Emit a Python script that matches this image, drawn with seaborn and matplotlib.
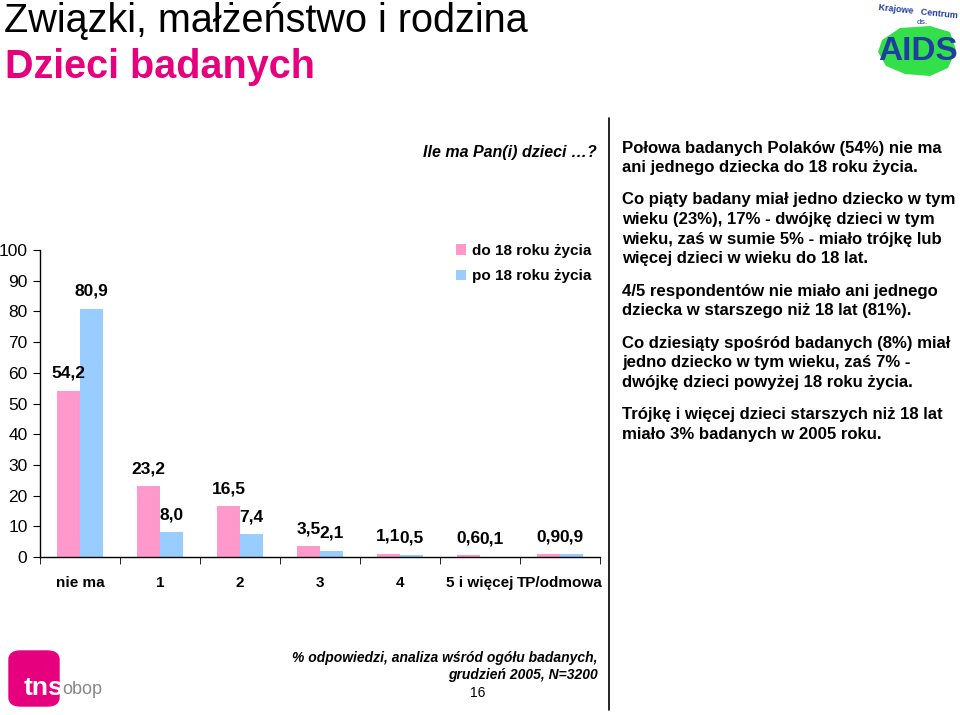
"""
Dzieci badanych - grouped bar chart (TNS OBOP slide recreation)
"""
import matplotlib
matplotlib.use('Agg')
import matplotlib.pyplot as plt
from matplotlib.lines import Line2D
from matplotlib.patches import FancyBboxPatch, Polygon
import numpy as np
import pandas as pd
import seaborn as sns

# ── DATA ──────────────────────────────────────────────────────────────
categories = ["nie ma", "1", "2", "3", "4", "5 i więcej", "TP/odmowa"]
series     = ["do 18 roku życia", "po 18 roku życia"]
under_18   = [54.2, 23.2, 16.5, 3.5, 1.1, 0.6, 0.9]
over_18    = [80.9, 8.0, 7.4, 2.1, 0.5, 0.1, 0.9]
y_ticks    = list(range(0, 101, 10))

notes = [
    ["Połowa badanych Polaków (54%) nie ma",
     "ani jednego dziecka do 18 roku życia."],
    ["Co piąty badany miał jedno dziecko w tym",
     "wieku (23%), 17% - dwójkę dzieci w tym",
     "wieku, zaś w sumie 5% - miało trójkę lub",
     "więcej dzieci w wieku do 18 lat."],
    ["4/5 respondentów nie miało ani jednego",
     "dziecka w starszego niż 18 lat (81%)."],
    ["Co dziesiąty spośród badanych (8%) miał",
     "jedno dziecko w tym wieku, zaś 7% -",
     "dwójkę dzieci powyżej 18 roku życia."],
    ["Trójkę i więcej dzieci starszych niż 18 lat",
     "miało 3% badanych w 2005 roku."],
]

df = pd.DataFrame({
    "kat": categories * 2,
    "seria": [series[0]] * len(categories) + [series[1]] * len(categories),
    "val": under_18 + over_18,
})

PINK    = "#FF99CC"
BLUE    = "#99CCFF"
MAGENTA = "#E6007E"
NAVY    = "#1F3FA0"

# ── FIGURE ────────────────────────────────────────────────────────────
sns.set_style("white")
plt.rcParams['font.family'] = ['Liberation Sans', 'DejaVu Sans']
plt.rcParams['text.color'] = 'black'
plt.rcParams['xtick.color'] = 'black'
plt.rcParams['ytick.color'] = 'black'

fig = plt.figure(figsize=(9.6, 7.15), dpi=100)
ax = fig.add_axes([40/960, 1 - 557/715, 560/960, 307/715])

sns.barplot(data=df, x="kat", y="val", hue="seria", order=categories,
            hue_order=series, palette=[PINK, BLUE], width=0.58, gap=0,
            saturation=1, edgecolor="none", ax=ax)

for cont, vals in zip(ax.containers, [under_18, over_18]):
    ax.bar_label(cont, labels=[f"{v:.1f}".replace(".", ",") for v in vals],
                 padding=7, fontsize=12.5, fontweight="bold", color="black")

ax.set_ylim(0, 100)
ax.set_xlim(-0.5, len(categories) - 0.5)
ax.set_yticks(y_ticks)
ax.set_xlabel(""); ax.set_ylabel("")
for s in ["top", "right"]:
    ax.spines[s].set_visible(False)
for s in ["left", "bottom"]:
    ax.spines[s].set_color("black")
    ax.spines[s].set_linewidth(1.0)
ax.tick_params(axis="y", left=True, length=5, labelsize=12.5, pad=4)
ax.tick_params(axis="x", which="major", length=0, labelsize=11, pad=14)
ax.set_xticks(np.arange(-0.5, len(categories)), minor=True)
ax.tick_params(axis="x", which="minor", bottom=True, length=5)
for t in ax.get_xticklabels():
    t.set_fontweight("bold")

leg = ax.legend(loc="upper right", bbox_to_anchor=(1.01, 1.065), frameon=False,
                fontsize=11, handlelength=0.7, handleheight=0.7,
                handletextpad=0.4, labelspacing=0.75)
for t in leg.get_texts():
    t.set_fontweight("bold")

# ── TITLES ────────────────────────────────────────────────────────────
fig.text(4/960, 1 - 21/715, "Związki, małżeństwo i rodzina", fontsize=28.5,
         va="center", ha="left")
fig.text(5/960, 1 - 67/715, "Dzieci badanych", fontsize=28.5, fontweight="bold",
         color=MAGENTA, va="center", ha="left")
fig.text(597/960, 1 - 153/715, "Ile ma Pan(i) dzieci …?", fontsize=11.5,
         fontweight="bold", style="italic", ha="right", va="center")

fig.add_artist(Line2D([609/960, 609/960], [1 - 118/715, 1 - 710/715],
                      color="black", lw=1.2))

# ── NOTES ─────────────────────────────────────────────────────────────
y = 148
for para in notes:
    for line in para:
        fig.text(622/960, 1 - y/715, line, fontsize=12.1, fontweight="bold",
                 ha="left", va="center")
        y += 19.7
    y += 12.5

# ── FOOTER ────────────────────────────────────────────────────────────
fig.text(598/960, 1 - 658/715, "% odpowiedzi, analiza wśród ogółu badanych,",
         fontsize=10, fontweight="bold", style="italic", ha="right", va="center")
fig.text(598/960, 1 - 675/715, "grudzień 2005, N=3200",
         fontsize=10, fontweight="bold", style="italic", ha="right", va="center")
fig.text(478/960, 1 - 693/715, "16", fontsize=10, ha="center", va="center")

# tns obop logo
fig.add_artist(FancyBboxPatch((9/960, 1 - 706/715), 50/960, 55/715,
                              boxstyle="round,pad=0,rounding_size=0.012",
                              transform=fig.transFigure, color=MAGENTA))
fig.text(24/960, 1 - 688/715, "tns", fontsize=19, fontweight="bold",
         color="white", ha="left", va="center")
fig.text(62/960, 1 - 689/715, "obop", fontsize=13, color="#888888",
         ha="left", va="center")

# AIDS logo (rough)
poland = [(882, 40), (900, 28), (930, 26), (950, 32), (956, 50), (948, 68),
          (930, 76), (905, 74), (886, 66), (878, 52)]
fig.add_artist(Polygon([(px/960, 1 - py/715) for px, py in poland],
                       closed=True, transform=fig.transFigure,
                       fc="#33E04A", ec="none"))
fig.text(918/960, 1 - 12/715, "Krajowe   Centrum", fontsize=6.5,
         fontweight="bold", color=NAVY, ha="center", va="center", rotation=-6)
fig.text(922/960, 1 - 22/715, "ds.", fontsize=6, color=NAVY,
         ha="center", va="center")
fig.text(918/960, 1 - 52/715, "AIDS", fontsize=24, fontweight="bold",
         color=NAVY, ha="center", va="center")

fig.savefig("out.png", dpi=100)
